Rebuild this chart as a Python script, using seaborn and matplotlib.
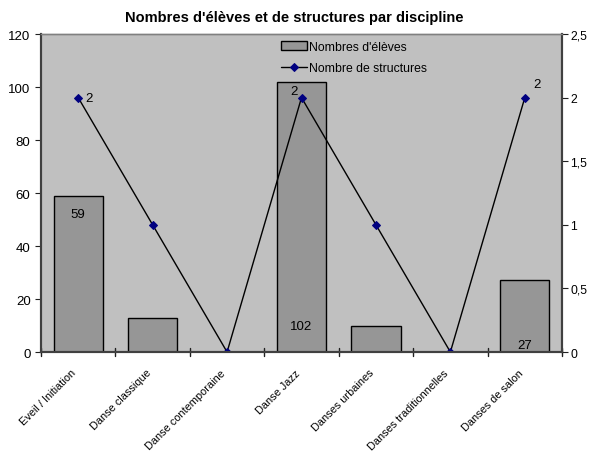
import numpy as np
import pandas as pd
import matplotlib
matplotlib.use('Agg')
import matplotlib.pyplot as plt
import matplotlib.transforms as mtransforms
import seaborn as sns

categories = ['Eveil / Initiation', 'Danse classique', 'Danse contemporaine', 'Danse Jazz',
              'Danses urbaines', 'Danses traditionnelles', 'Danses de salon']
eleves = [59, 13, 0, 102, 10, 0, 27]
structures = [2, 1, 0, 2, 1, 0, 2]
left_ticks = [0, 20, 40, 60, 80, 100, 120]
right_ticks = [0, 0.5, 1, 1.5, 2, 2.5]
right_labels = ['0', '0,5', '1', '1,5', '2', '2,5']

sns.set_style('white')
plt.rcParams['font.family'] = ['Liberation Sans', 'DejaVu Sans']
plt.rcParams['text.color'] = 'black'
plt.rcParams['xtick.color'] = 'black'
plt.rcParams['ytick.color'] = 'black'

df = pd.DataFrame({'discipline': categories, 'eleves': eleves, 'structures': structures})

fig = plt.figure(figsize=(5.89, 4.52), dpi=100)
ax = fig.add_axes([0.0696, 0.219, 0.8846, 0.7035])
ax.set_facecolor('#C0C0C0')

sns.barplot(data=df, x='discipline', y='eleves', color='#969696', edgecolor='black',
            linewidth=1.0, width=0.66, saturation=1, ax=ax, label="Nombres d'élèves")
if ax.get_legend() is not None:
    ax.get_legend().remove()
ax.set_ylim(0, 120)
ax.set_xlim(-0.5, len(categories) - 0.5)
ax.set_yticks(left_ticks)
ax.set_xlabel('')
ax.set_ylabel('')
ax.tick_params(axis='y', labelsize=9.5, length=4, direction='out', left=True,
               color='#202020', labelcolor='black')
ax.set_xticks(np.arange(len(categories)))
ax.set_xticklabels(categories, rotation=45, ha='right', rotation_mode='anchor', fontsize=7.9)
ax.tick_params(axis='x', length=0, pad=11, labelcolor='black')
shift = mtransforms.ScaledTranslation(-7 / 100, 0, fig.dpi_scale_trans)
for lbl in ax.get_xticklabels():
    lbl.set_transform(lbl.get_transform() + shift)
# category boundary tick marks crossing the axis
for b in np.arange(-0.5, len(categories) + 0.5, 1):
    ax.plot([b, b], [-1.5, 1.5], color='#202020', lw=1, clip_on=False, zorder=5)

ax2 = ax.twinx()
sns.lineplot(data=df, x='discipline', y='structures', color='black', lw=1, marker='D',
             markersize=4, markerfacecolor='#000080', markeredgecolor='#000080',
             ax=ax2, label='Nombre de structures', legend=False)
ax2.set_ylim(0, 2.5)
ax2.set_yticks(right_ticks)
ax2.set_yticklabels(right_labels)
ax2.set_ylabel('')
ax2.tick_params(axis='y', labelsize=8.8, length=4, pad=2, direction='out', right=True,
                color='#202020', labelcolor='black')

for a in (ax, ax2):
    for side in ('left', 'bottom', 'right'):
        a.spines[side].set_color('#404040')
        a.spines[side].set_linewidth(1.5)
    a.spines['top'].set_color('#808080')
    a.spines['top'].set_linewidth(1)

# data labels
ax.text(0, 52, '59', ha='center', va='center', fontsize=9.5)
ax.text(3, 10, '102', ha='center', va='center', fontsize=9.5)
ax.text(6, 2.5, '27', ha='center', va='center', fontsize=9.5)
ax2.text(0.1, 2, '2', ha='left', va='center', fontsize=9.5)
ax2.text(2.95, 2.05, '2', ha='right', va='center', fontsize=9.5)
ax2.text(6.16, 2.11, '2', ha='center', va='center', fontsize=9.5)

h1, l1 = ax.get_legend_handles_labels()
h2, l2 = ax2.get_legend_handles_labels()
leg = ax2.legend(h1 + h2, l1 + l2, loc='upper center', bbox_to_anchor=(0.6, 1.01),
                 fontsize=8.8, frameon=True, facecolor='#C0C0C0', edgecolor='#C0C0C0',
                 fancybox=False, framealpha=1, handlelength=2.2, handletextpad=0.1,
                 borderpad=0.3, labelspacing=0.75)
leg.set_zorder(10)

fig.suptitle("Nombres d'élèves et de structures par discipline", fontsize=10.5,
             fontweight='bold', y=0.975)

fig.savefig('out.png', dpi=100, facecolor='white')
